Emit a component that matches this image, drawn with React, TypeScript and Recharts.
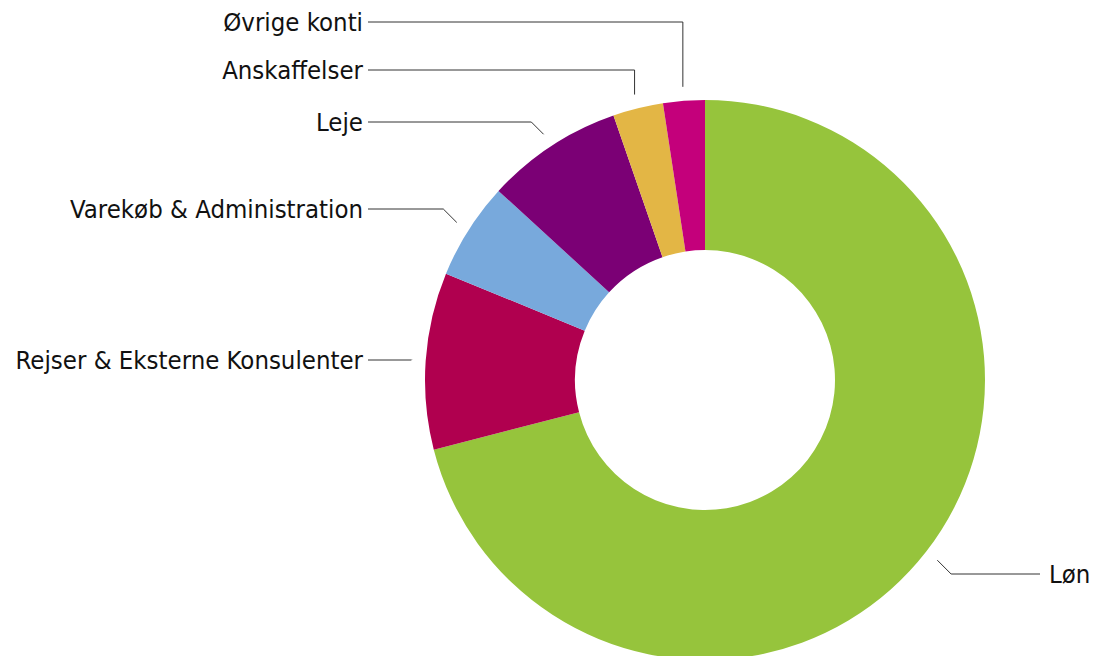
import { PieChart, Pie, Cell } from "recharts";

const categories = [
  "Løn",
  "Rejser & Eksterne Konsulenter",
  "Varekøb & Administration",
  "Leje",
  "Anskaffelser",
  "Øvrige konti",
];
const shares = [71.0, 10.2, 5.6, 7.9, 2.9, 2.4];
const colors = ["#96c43c", "#b0004f", "#78a9dc", "#7b0075", "#e3b645", "#c4007b"];

// y of each label row (text baseline centre)
const labelRows = [574, 360, 209, 122, 70, 22];

const data = categories.map((name, i) => ({ name, value: shares[i] }));

const RAD = Math.PI / 180;

function renderLabel(props: any) {
  const { cx, cy, midAngle, outerRadius, index, name } = props;
  const sin = Math.sin(-midAngle * RAD);
  const cos = Math.cos(-midAngle * RAD);
  const sx = cx + (outerRadius + 14) * cos;
  const sy = cy + (outerRadius + 14) * sin;
  const rowY = labelRows[index];
  const right = cos >= 0;
  const dy = rowY - sy;
  let ex = sx;
  if (Math.abs(dy) <= 20) ex = sx + (right ? 1 : -1) * Math.abs(dy);
  const lineEnd = right ? cx + 335 : cx - 337;
  const textX = right ? lineEnd + 9 : lineEnd - 5;
  return (
    <g>
      <polyline
        points={`${sx},${sy} ${ex},${rowY} ${lineEnd},${rowY}`}
        fill="none"
        stroke="#333"
        strokeWidth={1}
      />
      <text
        x={textX}
        y={rowY}
        textAnchor={right ? "start" : "end"}
        dominantBaseline="central"
        fill="#111"
        fontSize={25.5}
        fontFamily="'DejaVu Sans Condensed', 'DejaVu Sans', sans-serif"
      >
        {name}
      </text>
    </g>
  );
}

export default function App() {
  return (
    <div style={{ position: "absolute", left: 0, top: 0, width: 1095, height: 656, background: "#fff" }}>
      <PieChart width={1095} height={656} margin={{ top: 0, right: 0, bottom: 0, left: 0 }}>
        <Pie
          data={data}
          dataKey="value"
          nameKey="name"
          cx={705}
          cy={380}
          innerRadius={130}
          outerRadius={280}
          startAngle={90}
          endAngle={-270}
          stroke="none"
          label={renderLabel}
          labelLine={false}
          isAnimationActive={false}
        >
          {data.map((d, i) => (
            <Cell key={d.name} fill={colors[i]} />
          ))}
        </Pie>
      </PieChart>
    </div>
  );
}
